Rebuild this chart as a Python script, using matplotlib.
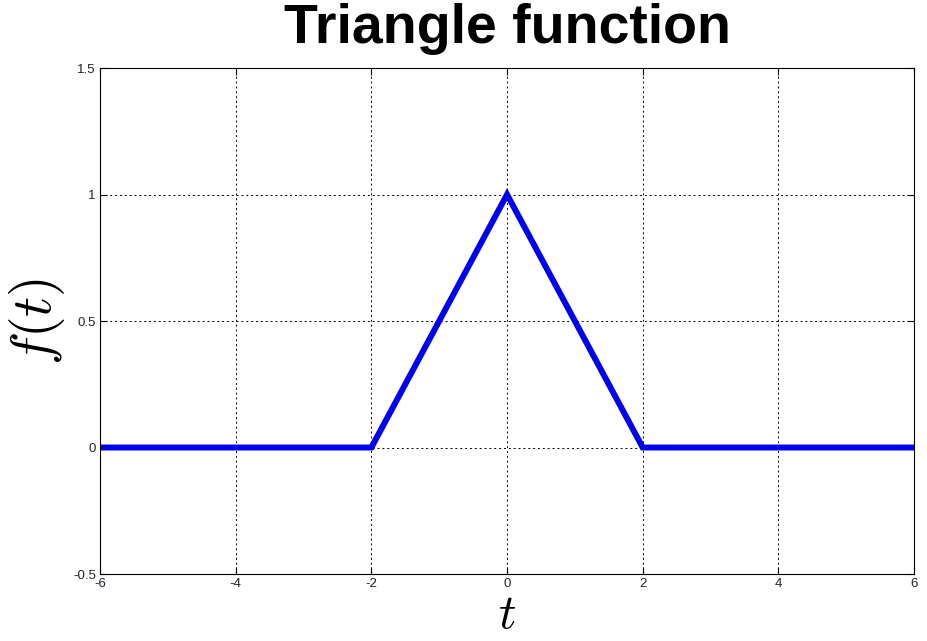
import matplotlib.pyplot as plt
import numpy as np

# triangle pulse sampled at its corner points
t = [-6, -2, 0, 2, 6]
f = [0, 0, 1, 0, 0]

x_ticks = [-6, -4, -2, 0, 2, 4, 6]
y_ticks = [-0.5, 0, 0.5, 1, 1.5]
y_tick_labels = ['-0.5', '0', '0.5', '1', '1.5']

plt.rcParams['font.family'] = ['Liberation Sans', 'DejaVu Sans']
plt.rcParams['mathtext.fontset'] = 'cm'

fig = plt.figure(figsize=(9.27, 6.41), dpi=100)
ax = fig.add_axes([0.1079, 0.1045, 0.8781, 0.7894])

ax.plot(t, f, color='#0000ee', linewidth=4.3, solid_joinstyle='miter')

ax.set_xlim(-6, 6)
ax.set_ylim(-0.5, 1.5)
ax.set_xticks(x_ticks)
ax.set_xticklabels([str(v) for v in x_ticks])
ax.set_yticks(y_ticks)
ax.set_yticklabels(y_tick_labels)
ax.tick_params(direction='in', length=5, width=0.8, top=True, right=True,
               labelsize=9.5, pad=3, labelcolor='#222233')
ax.grid(True, color='black', linestyle=(0, (2, 3)), linewidth=0.7)
for s in ax.spines.values():
    s.set_linewidth(0.8)

ax.set_title('Triangle function', fontsize=40, fontweight='bold', pad=18)
ax.set_xlabel('$t$', fontsize=35, labelpad=2)
ax.set_ylabel('$f(t)$', fontsize=40, labelpad=4)

fig.savefig('out.png', dpi=100)
